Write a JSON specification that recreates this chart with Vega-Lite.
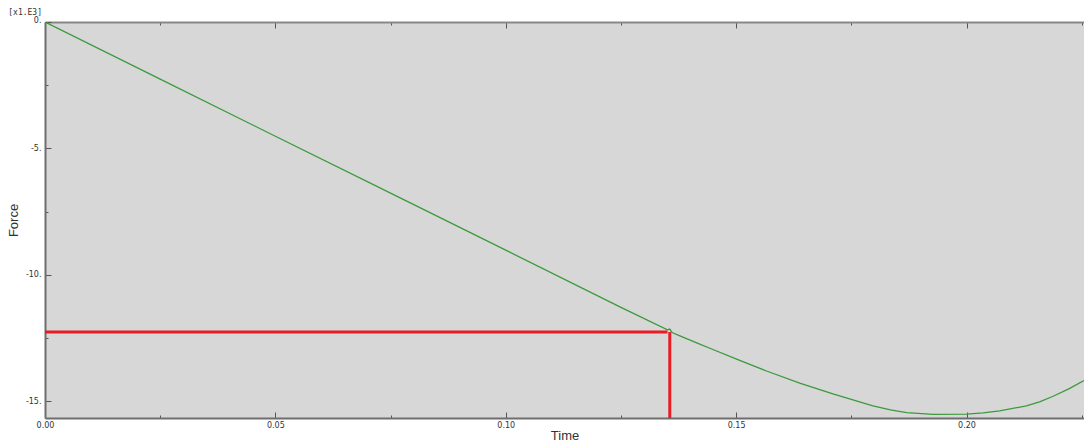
{
  "$schema": "https://vega.github.io/schema/vega-lite/v6.json",
  "autosize": "none",
  "padding": {"left": 45, "top": 22, "right": 0, "bottom": 25},
  "width": 1039,
  "height": 396,
  "background": "#ffffff",
  "title": {
    "text": "[x1.E3]",
    "anchor": "start",
    "frame": "group",
    "align": "right",
    "dx": -3,
    "offset": -1,
    "font": "DejaVu Sans Mono",
    "fontSize": 8,
    "fontWeight": "normal",
    "color": "#333333"
  },
  "config": {
    "view": {"fill": "#d7d7d7", "stroke": null},
    "axis": {
      "grid": false,
      "labelFont": "DejaVu Sans",
      "labelFontSize": 8,
      "labelColor": "#333333",
      "labelOverlap": false,
      "labelBound": false,
      "labelFlush": false,
      "tickColor": "#555555",
      "tickWidth": 1,
      "domainColor": "#6e6e6e",
      "domainWidth": 2,
      "titleFont": "Liberation Sans",
      "titleFontSize": 13,
      "titleFontWeight": "normal",
      "titleColor": "#333333"
    }
  },
  "resolve": {"axis": {"x": "independent"}},
  "layer": [
    {
      "data": {
        "values": [
          {"time": 0.0, "force": 0.0},
          {"time": 0.025, "force": -2.26},
          {"time": 0.05, "force": -4.52},
          {"time": 0.075, "force": -6.77},
          {"time": 0.1, "force": -9.03},
          {"time": 0.125, "force": -11.29},
          {"time": 0.1351, "force": -12.18},
          {"time": 0.1356, "force": -12.15},
          {"time": 0.1361, "force": -12.29},
          {"time": 0.1378, "force": -12.42},
          {"time": 0.1421, "force": -12.75},
          {"time": 0.1443, "force": -12.91},
          {"time": 0.1501, "force": -13.34},
          {"time": 0.1566, "force": -13.81},
          {"time": 0.1638, "force": -14.29},
          {"time": 0.171, "force": -14.72},
          {"time": 0.1797, "force": -15.19},
          {"time": 0.1835, "force": -15.35},
          {"time": 0.187, "force": -15.46},
          {"time": 0.1928, "force": -15.53},
          {"time": 0.2, "force": -15.52},
          {"time": 0.2036, "force": -15.47},
          {"time": 0.2072, "force": -15.39},
          {"time": 0.213, "force": -15.19},
          {"time": 0.216, "force": -15.02},
          {"time": 0.2188, "force": -14.81},
          {"time": 0.2222, "force": -14.52},
          {"time": 0.2255, "force": -14.19}
        ]
      },
      "mark": {"type": "line", "color": "#3c9a3c", "strokeWidth": 1.3, "clip": true},
      "encoding": {
        "x": {
          "field": "time",
          "type": "quantitative",
          "scale": {"domain": [0, 0.2255], "nice": false, "zero": false},
          "axis": {
            "orient": "bottom",
            "title": "Time",
            "titlePadding": -3,
            "values": [0, 0.025, 0.05, 0.075, 0.1, 0.125, 0.15, 0.175, 0.2, 0.225],
            "labelExpr": "abs(datum.value * 20 - round(datum.value * 20)) < 0.001 ? format(datum.value, '.2f') : ''",
            "labelAngle": 0,
            "labelPadding": 9,
            "tickSize": {"condition": {"test": "abs(datum.value * 20 - round(datum.value * 20)) < 0.001", "value": -6}, "value": -3}
          }
        },
        "y": {
          "field": "force",
          "type": "quantitative",
          "scale": {"domain": [-15.67, 0], "nice": false, "zero": false},
          "axis": {
            "title": "Force",
            "titlePadding": 5,
            "values": [0, -2.5, -5, -7.5, -10, -12.5, -15],
            "labelExpr": "datum.value % 5 == 0 ? datum.value + '.' : ''",
            "labelPadding": 10,
            "labelBaseline": {"condition": {"test": "datum.value == 0", "value": "alphabetic"}, "value": "middle"},
            "tickSize": {"condition": {"test": "datum.value % 5 == 0", "value": -6}, "value": -3}
          }
        }
      }
    },
    {
      "data": {
        "values": [
          {"t0": 0.0, "t1": 0.1351, "f0": -12.27, "f1": -12.27},
          {"t0": 0.1356, "t1": 0.1356, "f0": -12.27, "f1": -15.67}
        ]
      },
      "mark": {"type": "rule", "color": "#e81c24", "strokeWidth": 3},
      "encoding": {
        "x": {
          "field": "t0",
          "type": "quantitative",
          "axis": {
            "orient": "top",
            "title": null,
            "labels": false,
            "domainColor": "#888888",
            "domainWidth": 2,
            "values": [0, 0.025, 0.05, 0.075, 0.1, 0.125, 0.15, 0.175, 0.2, 0.225],
            "tickSize": {"condition": {"test": "abs(datum.value * 20 - round(datum.value * 20)) < 0.001", "value": -6}, "value": -3}
          }
        },
        "x2": {"field": "t1"},
        "y": {"field": "f0", "type": "quantitative"},
        "y2": {"field": "f1"}
      }
    }
  ]
}
